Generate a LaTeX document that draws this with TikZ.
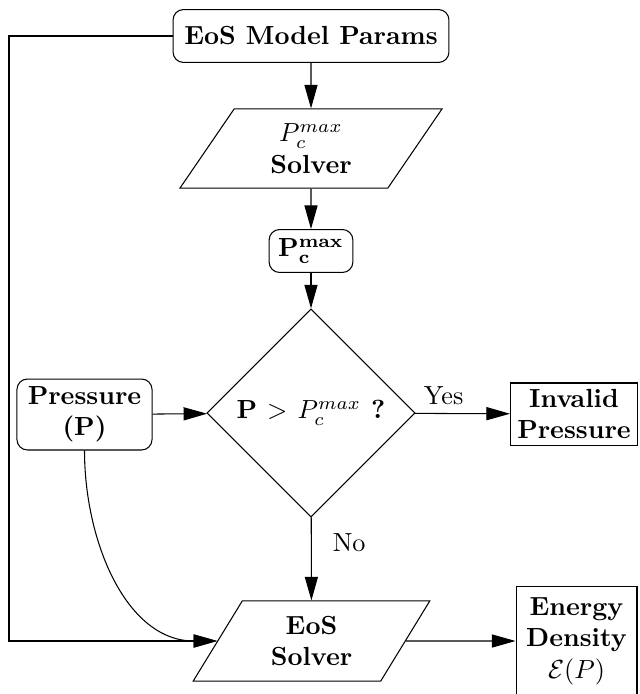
\documentclass[tikz,border=0pt]{standalone}
\usetikzlibrary{shapes.geometric,arrows.meta}
\begin{document}
\begin{tikzpicture}[x=0.382pt,y=-0.382pt,
  every node/.style={font=\bfseries, align=center, inner sep=0pt},
  rbox/.style={draw, rounded corners=4pt},
  sbox/.style={draw, rectangle},
  para/.style={draw, trapezium, trapezium left angle=60, trapezium right angle=120, trapezium stretches=true},
  dec/.style={draw, diamond, aspect=1},
  arr/.style={-{Triangle[length=9pt,width=5pt]}},
  lbl/.style={font=\normalfont, inner sep=3pt}
]
\useasboundingbox (0,0) rectangle (639,694);
\node[rbox, minimum width=105.4pt, minimum height=20.2pt] (emp) at (311,36) {EoS Model Params};
\node[para, minimum width=100.5pt, minimum height=30.2pt] (pcs) at (311,148.5) {$P_c^{max}$\\Solver};
\node[rbox, minimum width=32pt, minimum height=16.4pt] (pmax) at (311,251) {$\mathbf{P_c^{max}}$};
\node[dec, minimum width=79.5pt, minimum height=79.5pt] (dia) at (311,413) {P $>$ $P_c^{max}$ ?};
\node[rbox, minimum width=51.6pt, minimum height=27.1pt] (pres) at (84.5,414.5) {Pressure\\(P)};
\node[sbox, minimum width=48.5pt, minimum height=23.7pt] (inv) at (574,414) {Invalid\\Pressure};
\node[para, minimum width=90.5pt, minimum height=30.6pt] (eos) at (311.5,641) {EoS\\Solver};
\node[sbox, minimum width=46.2pt, minimum height=41.3pt] (en) at (576.5,641) {Energy\\Density\\$\mathcal{E}(P)$};
\coordinate (c1) at (9,36);

\draw[arr] (emp) -- (pcs);
\draw[arr] (pcs) -- (pmax);
\draw[arr] (pmax) -- (dia);
\draw[arr] (pres) -- (dia);
\draw[arr] (dia) -- node[lbl, above, pos=0.3] {Yes} (inv);
\draw[arr] (dia) -- node[lbl, right, pos=0.3, xshift=5pt] {No} (eos);
\draw[arr] (eos) -- (en);
\draw[arr] (pres.south) to[out=-90,in=180] (eos.west);
\draw[arr] (emp.west) -- (c1) |- (eos.west);
\end{tikzpicture}
\end{document}
